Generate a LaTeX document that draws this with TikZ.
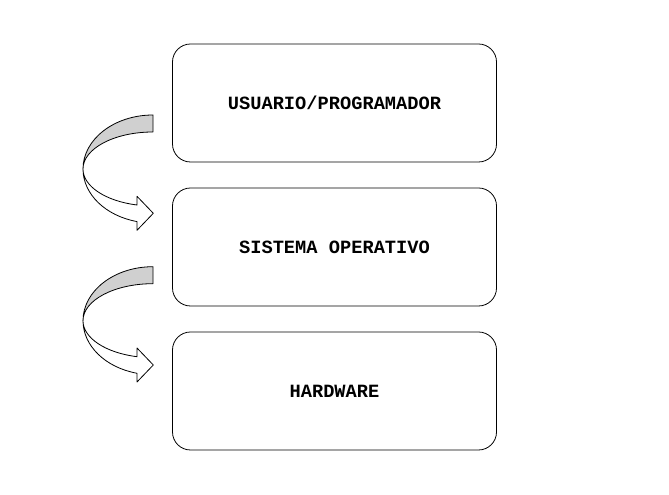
\documentclass[tikz,border=0pt]{standalone}
\usepackage{fontspec}
\newfontfamily\lmono{Liberation Mono}
\definecolor{bandgray}{RGB}{208,208,208}
\tikzset{
  layerbox/.style={draw=black, line width=0.8bp, rounded corners=18bp, fill=white,
    minimum width=324bp, minimum height=118bp, inner sep=0pt,
    font=\lmono\bfseries\fontsize{18.7bp}{22bp}\selectfont},
  bandline/.style={draw=black, line width=0.8bp, line join=round},
  curvedarrow/.pic={
    \filldraw[bandline, fill=bandgray] (0,54) arc[start angle=90, end angle=180, x radius=70bp, y radius=54bp]
      arc[start angle=180, end angle=90, x radius=70bp, y radius=37bp] -- cycle;
    \filldraw[bandline, fill=white] (-70,0) arc[start angle=180, end angle=256.8, x radius=70bp, y radius=54bp]
      -- (-16,-61.3) -- (0.3,-44.3) -- (-16,-27.3) -- (-16,-36.0)
      arc[start angle=256.8, end angle=180, x radius=70bp, y radius=37bp] -- cycle;
  }
}
\begin{document}
\begin{tikzpicture}[x=1bp,y=1bp]
\useasboundingbox (0,0) rectangle (669,495);
\node[layerbox] (usuario) at (334.5,392) {USUARIO/PROGRAMADOR};
\node[layerbox] (so) at (334.5,248) {SISTEMA OPERATIVO};
\node[layerbox] (hw) at (334.5,104) {HARDWARE};
\pic at (153,326) {curvedarrow};
\pic at (153,174.3) {curvedarrow};
\end{tikzpicture}
\end{document}
